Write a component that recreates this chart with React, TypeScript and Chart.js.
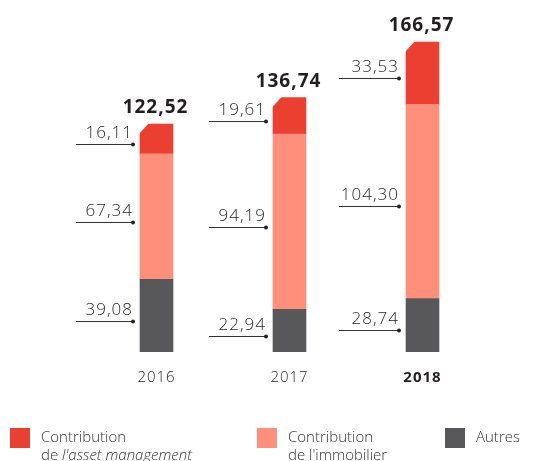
import React, { useEffect, useRef } from "react";
import { Chart, registerables } from "chart.js";

Chart.register(...registerables);

const years = ["2016", "2017", "2018"];
const autres = [39.08, 22.94, 28.74];
const immobilier = [67.34, 94.19, 104.3];
const assetManagement = [16.11, 19.61, 33.53];
const totals = [122.52, 136.74, 166.57];
const boldYear = "2018";

const RED = "#EA3F31";
const SALMON = "#FE907B";
const DARK = "#58585A";
const TEXT = "#231F20";
const FONT = "'Open Sans', 'DejaVu Sans', sans-serif";

const fmt = (v: number) => v.toFixed(2).replace(".", ",");

const overlayPlugin = {
  id: "overlay",
  afterDatasetsDraw(chart: any) {
    const ctx = chart.ctx as CanvasRenderingContext2D;
    ctx.save();
    // chamfer top-left corner of the top segment
    const topMeta = chart.getDatasetMeta(2);
    topMeta.data.forEach((el: any) => {
      const left = el.x - el.width / 2;
      const c = 9;
      ctx.fillStyle = "#ffffff";
      ctx.beginPath();
      ctx.moveTo(left - 1, el.y - 1);
      ctx.lineTo(left + c, el.y - 1);
      ctx.lineTo(left - 1, el.y + c + 1);
      ctx.closePath();
      ctx.fill();
    });

    // segment value labels with leader lines
    const sets = [autres, immobilier, assetManagement];
    sets.forEach((vals, di) => {
      const meta = chart.getDatasetMeta(di);
      meta.data.forEach((el: any, i: number) => {
        const left = el.x - el.width / 2;
        const end = left - 7;
        const len = i === 2 ? 60 : 57;
        const ly = Math.round((el.y + el.base) / 2 + 5) + 0.5;
        ctx.strokeStyle = "#333333";
        ctx.lineWidth = 1;
        ctx.beginPath();
        ctx.moveTo(end - len, ly);
        ctx.lineTo(end, ly);
        ctx.stroke();
        ctx.fillStyle = "#222222";
        ctx.beginPath();
        ctx.arc(end, ly, 2, 0, Math.PI * 2);
        ctx.fill();
        ctx.font = `300 17px ${FONT}`;
        (ctx as any).letterSpacing = "1px";
        ctx.textAlign = "right";
        ctx.textBaseline = "alphabetic";
        ctx.fillStyle = TEXT;
        ctx.fillText(fmt(vals[i]), end, ly - 7);
      });
    });

    // totals
    topMeta.data.forEach((el: any, i: number) => {
      ctx.font = `bold 19px ${FONT}`;
      (ctx as any).letterSpacing = "1px";
      ctx.textAlign = "center";
      ctx.fillStyle = TEXT;
      ctx.fillText(fmt(totals[i]), el.x - 1, el.y - 11);
    });

    // year labels
    topMeta.data.forEach((el: any, i: number) => {
      const y = years[i];
      ctx.font = `${y === boldYear ? "bold" : "300"} 15px ${FONT}`;
      (ctx as any).letterSpacing = "1px";
      ctx.textAlign = "center";
      ctx.fillStyle = TEXT;
      ctx.fillText(y, el.x, 382);
    });

    // legend
    (ctx as any).letterSpacing = "0px";
    const legend = [
      { color: RED, x: 10, lines: [["Contribution"], ["de ", "l'asset management"]] },
      { color: SALMON, x: 257, lines: [["Contribution"], ["de l'immobilier"]] },
      { color: DARK, x: 445, lines: [["Autres"]] },
    ];
    legend.forEach((item) => {
      ctx.fillStyle = item.color;
      ctx.fillRect(item.x, 428, 20, 20);
      ctx.textAlign = "left";
      ctx.fillStyle = "#333333";
      item.lines.forEach((parts, li) => {
        let x = item.x + 31;
        const by = 442 + li * 17.5;
        parts.forEach((p, pi) => {
          ctx.font = `${pi === 1 ? "italic " : ""}300 15px ${FONT}`;
          ctx.fillText(p, x, by);
          x += ctx.measureText(p).width;
        });
      });
    });
    ctx.restore();
  },
};

export default function App() {
  const ref = useRef<HTMLCanvasElement | null>(null);
  useEffect(() => {
    if (!ref.current) return;
    const chart = new Chart(ref.current, {
      type: "bar",
      data: {
        labels: years,
        datasets: [
          { label: "Autres", data: autres, backgroundColor: DARK, barThickness: 33 },
          { label: "Contribution de l'immobilier", data: immobilier, backgroundColor: SALMON, barThickness: 33 },
          { label: "Contribution de l'asset management", data: assetManagement, backgroundColor: RED, barThickness: 33 },
        ],
      },
      options: {
        responsive: false,
        animation: false,
        layout: { padding: { left: 90, right: 60, top: 17, bottom: 109 } },
        plugins: { legend: { display: false }, tooltip: { enabled: false } },
        scales: {
          x: { stacked: true, display: false },
          y: { stacked: true, display: false, min: 0, max: 180 },
        },
      },
      plugins: [overlayPlugin],
    });
    return () => chart.destroy();
  }, []);
  return (
    <div style={{ position: "fixed", left: 0, top: 0, width: 549, height: 461, background: "#fff" }}>
      <canvas ref={ref} width={549} height={461} style={{ width: 549, height: 461 }} />
    </div>
  );
}
